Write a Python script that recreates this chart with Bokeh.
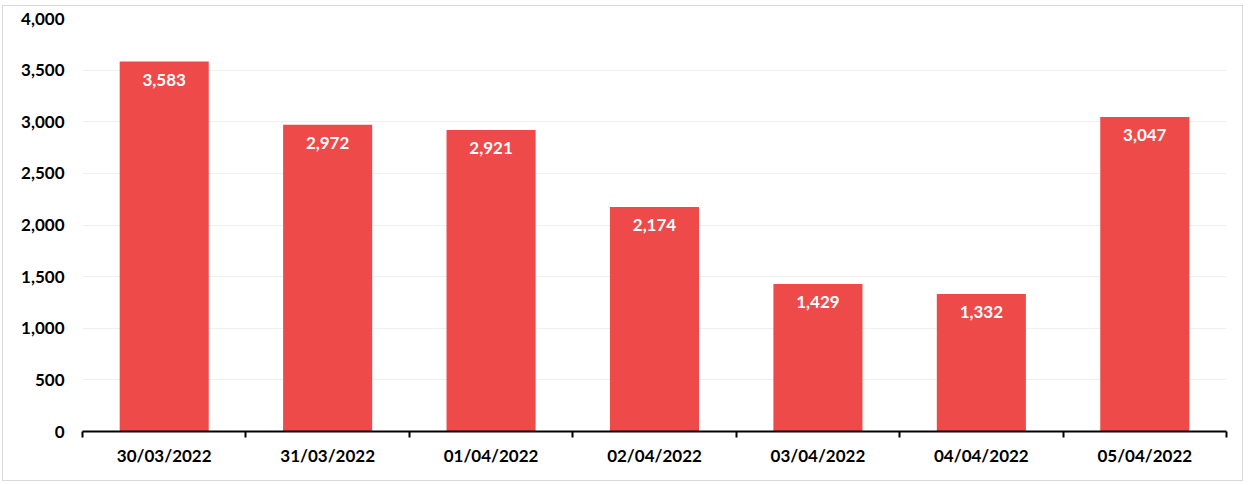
from bokeh.plotting import figure
from bokeh.models import (ColumnDataSource, FactorRange, Range1d, LinearAxis,
                          FixedTicker, NumeralTickFormatter, LabelSet)
from bokeh.core.properties import value
from bokeh.embed import file_html
from bokeh.resources import INLINE

dates = ["30/03/2022", "31/03/2022", "01/04/2022", "02/04/2022",
         "03/04/2022", "04/04/2022", "05/04/2022"]
values = [3583, 2972, 2921, 2174, 1429, 1332, 3047]
y_ticks = [0, 500, 1000, 1500, 2000, 2500, 3000, 3500, 4000]

FONT = "Lato"
BAR = "#EE4A4A"

src = ColumnDataSource(dict(
    x=dates, top=values, label=[f"{v:,}" for v in values]))

p = figure(x_range=FactorRange(*dates, range_padding=0), y_range=Range1d(0, 4000),
           width=1241, height=476, output_backend="svg", toolbar_location=None,
           min_border_left=79, min_border_right=18, min_border_top=12,
           min_border_bottom=51)
p.outline_line_color = None
p.styles = {"border": "1px solid #D9D9D9", "box-sizing": "border-box",
            "margin-left": "2px", "margin-top": "5px"}

p.vbar(x="x", top="top", width=0.545, source=src, color=BAR, line_color=None)

labels = LabelSet(x="x", y="top", text="label", source=src, text_align="center",
                  text_baseline="top", y_offset=-12, text_color="white",
                  text_font=value(FONT), text_font_style="bold",
                  text_font_size="17px")
p.add_layout(labels)

# y axis
p.yaxis.ticker = FixedTicker(ticks=y_ticks)
p.yaxis.formatter = NumeralTickFormatter(format="0,0")
p.yaxis.axis_line_color = None
p.yaxis.major_tick_line_color = None
p.yaxis.minor_tick_line_color = None
p.yaxis.major_label_text_font = FONT
p.yaxis.major_label_text_font_style = "bold"
p.yaxis.major_label_text_font_size = "17px"
p.yaxis.major_label_text_color = "black"
p.yaxis.major_label_standoff = 12

p.ygrid.ticker = FixedTicker(ticks=y_ticks)
p.ygrid.grid_line_color = "#EFEFEF"
p.xgrid.grid_line_color = None

# category axis: labels only
p.xaxis.axis_line_color = None
p.xaxis.major_tick_line_color = None
p.xaxis.major_label_text_font = FONT
p.xaxis.major_label_text_font_style = "bold"
p.xaxis.major_label_text_font_size = "17px"
p.xaxis.major_label_text_color = "black"
p.xaxis.major_label_standoff = 1

# edge ticks axis (between categories), synthetic coordinates 0..n
edges = list(range(len(dates) + 1))
edge_axis = LinearAxis(ticker=FixedTicker(ticks=edges),
                       major_label_overrides={e: "" for e in edges},
                       axis_line_color="black", axis_line_width=2,
                       major_tick_line_color="black", major_tick_line_width=2,
                       major_tick_in=0, major_tick_out=6,
                       minor_tick_line_color=None,
                       major_label_text_font_size="1px", major_label_standoff=0)
p.below.insert(0, edge_axis)

open("out.html", "w").write(file_html(p, INLINE))
